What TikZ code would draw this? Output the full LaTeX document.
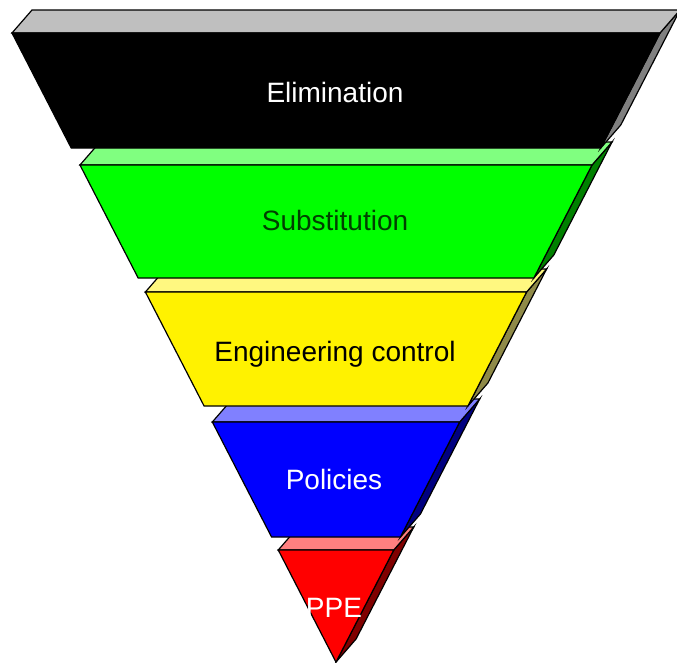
\documentclass[tikz,border=0pt]{standalone}
\usepackage{fontspec}
\setmainfont{Liberation Sans}
\begin{document}
\begin{tikzpicture}[x=1pt,y=-1pt,line width=1.2pt,
    lab/.style={anchor=base,font=\fontsize{28}{30}\selectfont}]
    \useasboundingbox (0,0) rectangle (677,662);
    % layers from the tip upwards, so each one hides the back of the one below
    \foreach \ya/\yb/\fr/\tp/\sd in {550/662/red/red!50/red!50!black,
        422/537/blue/blue!50/blue!50!black,
        292/406/yellow/yellow!50/yellow!50!black,
        165/278/green/green!50/green!50!black,
        33/148/black/black!25/black!50} {
        \pgfmathsetmacro\la{12+0.515*(\ya-33)}
        \pgfmathsetmacro\ra{660-0.515*(\ya-33)}
        \pgfmathsetmacro\lb{12+0.515*(\yb-33)}
        \pgfmathsetmacro\rb{660-0.515*(\yb-33)}
        \draw[fill=\sd] (\ra,\ya) -- (\ra+20,\ya-23) -- (\rb+20,\yb-23) -- (\rb,\yb) -- cycle;
        \draw[fill=\tp] (\la,\ya) -- (\la+20,\ya-23) -- (\ra+20,\ya-23) -- (\ra,\ya) -- cycle;
        \draw[fill=\fr] (\la,\ya) -- (\ra,\ya) -- (\rb,\yb) -- (\lb,\yb) -- cycle;
    }
    \node[lab,white] (elim) at (335,102) {Elimination};
    \node[lab,green!25!black] (subst) at (335,230) {Substitution};
    \node[lab,black] (eng) at (335,361) {Engineering control};
    \node[lab,white] (pol) at (334,489) {Policies};
    \node[lab,white] (ppe) at (334,617) {PPE};
\end{tikzpicture}
\end{document}
